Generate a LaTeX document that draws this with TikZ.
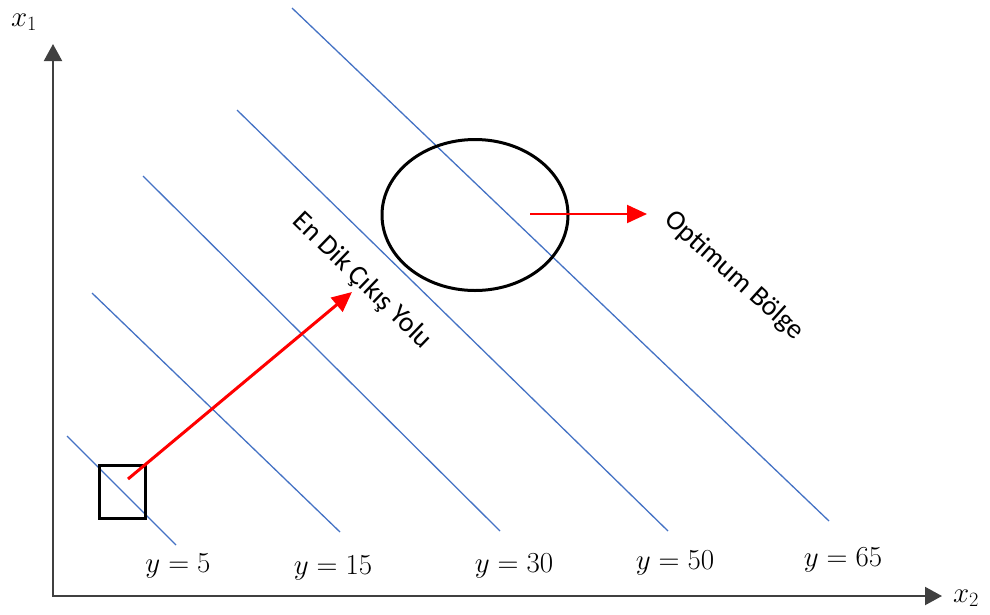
\RequirePackage{fix-cm}
\documentclass[tikz,border=0pt]{standalone}
\usepackage{fontspec}
\newfontfamily\notefont{Carlito}
\usetikzlibrary{arrows.meta,shapes.geometric}
\definecolor{levelblue}{RGB}{68,114,196}
\definecolor{axisgray}{RGB}{64,64,64}

\begin{document}
\begin{tikzpicture}[x=1pt,y=-1pt,
  level/.style={levelblue, line width=1.3pt},
  axis/.style={axisgray, line width=2pt, {Triangle[length=17pt,width=18pt]}-{Triangle[length=17pt,width=18pt]}},
  mathlabel/.style={font=\fontsize{29}{34}\selectfont},
  note/.style={font=\notefont\fontsize{28}{33}\selectfont},
  redarrow/.style={red, -{Triangle[length=20pt,width=18pt]}}]
\useasboundingbox (0,0) rectangle (990,614);
\coordinate (origin) at (53,596);
\coordinate (x1end) at (53,44);
\coordinate (x2end) at (942,596);
\draw[axis] (x1end) -- (origin) -- (x2end);
\node[mathlabel] (x1lab) at (24,22) {$x_1$};
\node[mathlabel] (x2lab) at (966,598) {$x_2$};
\draw[level] (67,436) -- (176,545);
\node[mathlabel] (y5) at (178,566) {$y=5$};
\draw[level] (92,293) -- (340,532);
\node[mathlabel] (y15) at (333,568) {$y=15$};
\draw[level] (143,176) -- (500,531);
\node[mathlabel] (y30) at (514,566) {$y=30$};
\draw[level] (237,110) -- (668,531);
\node[mathlabel] (y50) at (675,563) {$y=50$};
\draw[level] (292,8) -- (829,521);
\node[mathlabel] (y65) at (843,560) {$y=65$};
\node[draw, line width=3pt, minimum width=46pt, minimum height=53pt, inner sep=0pt] (start) at (122,492) {};
\node[draw, ellipse, line width=3pt, minimum width=186pt, minimum height=151pt, inner sep=0pt] (optimum) at (475,215) {};
\coordinate (pathstart) at (128,479);
\coordinate (pathtip) at (352,292);
\draw[redarrow, line width=3pt] (pathstart) -- (pathtip);
\node[note, rotate=-44] (pathlabel) at (362,281) {En Dik Çıkış Yolu};
\coordinate (optstart) at (530,214);
\coordinate (opttip) at (647,214);
\draw[redarrow, line width=2pt] (optstart) -- (opttip);
\node[note, rotate=-42] (optlabel) at (734,276) {Optimum Bölge};
\end{tikzpicture}
\end{document}
